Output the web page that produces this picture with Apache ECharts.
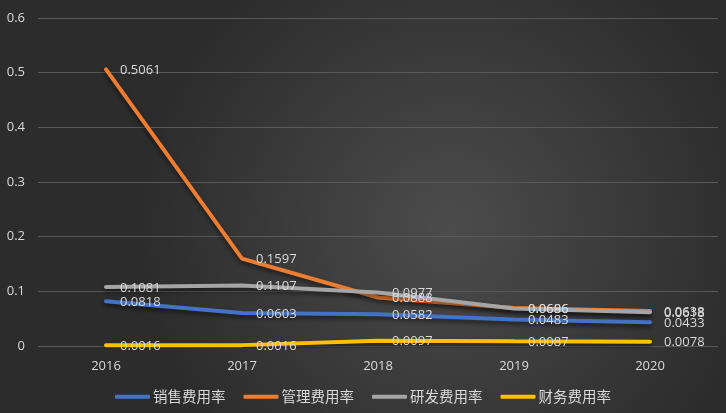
<!DOCTYPE html>
<html><head><meta charset="utf-8">
<script src="https://cdn.jsdelivr.net/npm/echarts@6/dist/echarts.min.js"></script>
<style>html,body{margin:0;padding:0;background:#333;}#c{width:726px;height:413px;}</style>
</head><body><div id="c"></div>
<script>
var categories = ['2016','2017','2018','2019','2020'];
var sales = [0.0818, 0.0603, 0.0582, 0.0483, 0.0433];
var admin = [0.5061, 0.1597, 0.0888, 0.0696, 0.0638];
var rnd = [0.1081, 0.1107, 0.0977, 0.0686, 0.0618];
var fin = [0.0016, 0.0016, 0.0097, 0.0087, 0.0078];
var names = ['销售费用率','管理费用率','研发费用率','财务费用率'];
var colors = ['#4472C4','#ED7D31','#A5A5A5','#FFC000'];
var yTicks = [0, 0.1, 0.2, 0.3, 0.4, 0.5, 0.6];

var font = '"Microsoft YaHei","Noto Sans CJK SC","DejaVu Sans",sans-serif';
var numFont = '"Open Sans","Noto Sans",sans-serif';
function mk(name, data, color) {
  return {
    name: name, type: 'line', data: data, showSymbol: true, symbol: 'circle', symbolSize: 0,
    lineStyle: {width: 4, color: color, cap: 'round', shadowColor: 'rgba(0,0,0,0.5)', shadowBlur: 4, shadowOffsetY: 3},
    itemStyle: {color: color},
    label: {show: true, position: 'right', distance: 14, color: '#d9d9d9', fontSize: 13, fontFamily: numFont,
      offset: [0, 1],
      formatter: function(p){ return p.value.toFixed(4); }},
    emphasis: {disabled: true}
  };
}
var chart = echarts.init(document.getElementById('c'));
chart.setOption({
  animation: false,
  backgroundColor: {type: 'radial', x: 0.62, y: 0.55, r: 0.75,
    colorStops: [{offset: 0, color: '#4c4c4c'}, {offset: 1, color: '#2c2c2c'}]},
  grid: {left: 38, right: 8, top: 18, bottom: 67, containLabel: false},
  legend: {bottom: 4, itemWidth: 35, itemHeight: 4, itemGap: 18,
    textStyle: {color: '#d9d9d9', fontSize: 14.5, fontFamily: font, padding: [0,0,0,-2]},
    icon: 'roundRect', data: names},
  xAxis: {type: 'category', data: categories, boundaryGap: true,
    axisLine: {show: false}, axisTick: {show: false},
    axisLabel: {color: '#d9d9d9', fontSize: 13, fontFamily: numFont, margin: 14}},
  yAxis: {type: 'value', min: 0, max: 0.6, interval: 0.1,
    axisLine: {show: false}, axisTick: {show: false},
    axisLabel: {color: '#d9d9d9', fontSize: 13, fontFamily: numFont, margin: 13,
      formatter: function(v){ return String(Math.round(v*10)/10); }},
    splitLine: {lineStyle: {color: '#595959', width: 1}}},
  series: [mk(names[0], sales, colors[0]), mk(names[1], admin, colors[1]), mk(names[2], rnd, colors[2]), mk(names[3], fin, colors[3])]
});
</script></body></html>
